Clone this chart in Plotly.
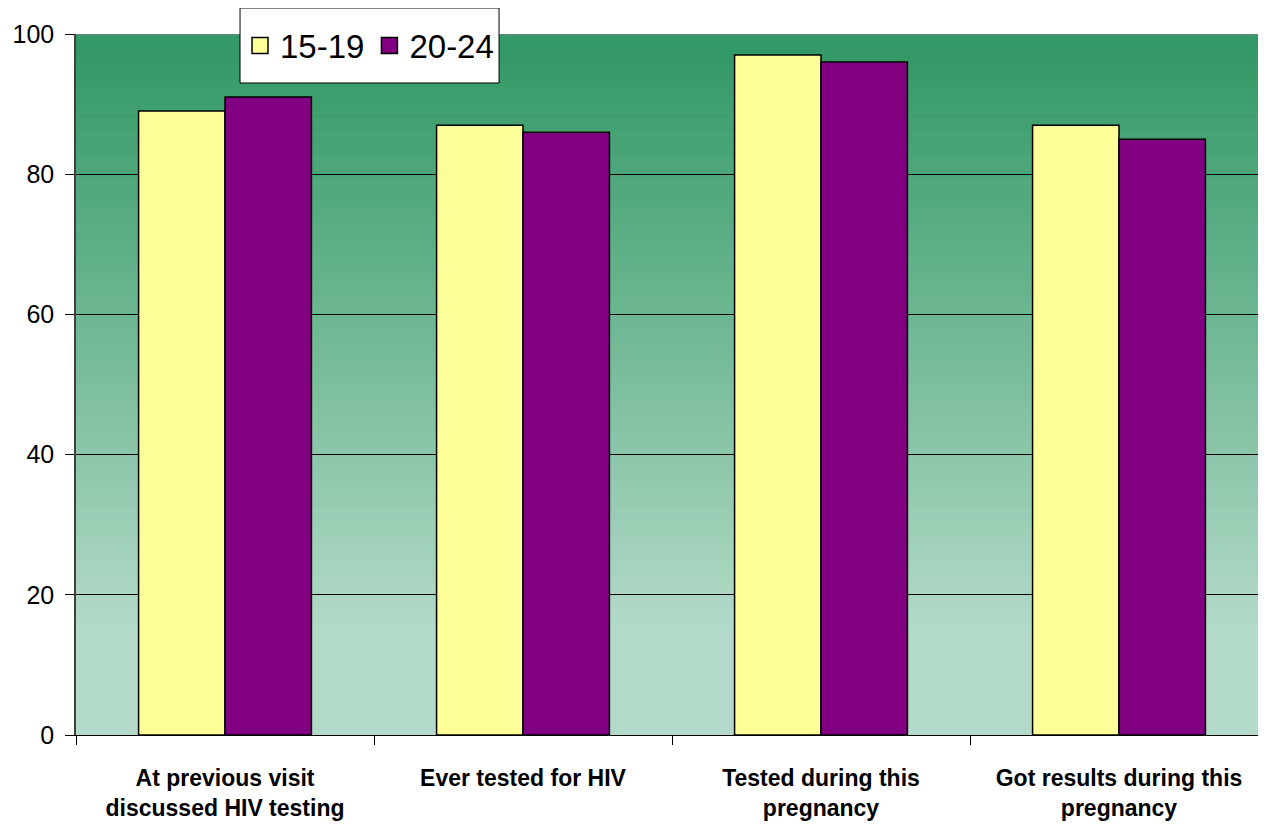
import plotly.graph_objects as go

categories = ["At previous visit<br>discussed HIV testing", "Ever tested for HIV",
              "Tested during this<br>pregnancy", "Got results during this<br>pregnancy"]
series_names = ["15-19", "20-24"]
values_15_19 = [89, 87, 97, 87]
values_20_24 = [91, 86, 96, 85]
y_ticks = [0, 20, 40, 60, 80, 100]

colors = ["#FFFF99", "#800080"]
xpos = list(range(len(categories)))

fig = go.Figure()
for name, vals, col in zip(series_names, [values_15_19, values_20_24], colors):
    fig.add_trace(go.Bar(x=xpos, y=vals, name=name, marker=dict(color=col, line=dict(color="black", width=1.5)),
                         showlegend=False))
for name, col in zip(series_names, colors):
    fig.add_trace(go.Scatter(x=[None], y=[None], mode="markers", name=name,
                             marker=dict(symbol="square", size=16, color=col, line=dict(color="black", width=1.5))))

# gradient background
def lerp(c1, c2, t):
    return "rgb(%d,%d,%d)" % tuple(round(a + (b - a) * t) for a, b in zip(c1, c2))
top_c = (0x33, 0x99, 0x66)
bot_c = (0xB3, 0xDA, 0xC8)
g_top, g_bot = 97.0, 15.0
n = 100
shapes = []
shapes.append(dict(type="rect", xref="paper", yref="y", x0=0, x1=1, y0=0, y1=g_bot,
                   fillcolor=lerp(top_c, bot_c, 1), line_width=0, layer="below"))
shapes.append(dict(type="rect", xref="paper", yref="y", x0=0, x1=1, y0=g_top, y1=100,
                   fillcolor=lerp(top_c, bot_c, 0), line_width=0, layer="below"))
for i in range(n):
    y1 = g_top - (g_top - g_bot) * i / n
    y0 = g_top - (g_top - g_bot) * (i + 1) / n
    shapes.append(dict(type="rect", xref="paper", yref="y", x0=0, x1=1, y0=y0 - 0.05, y1=y1 + 0.05,
                       fillcolor=lerp(top_c, bot_c, (i + 0.5) / n), line_width=0, layer="below"))
# top border
shapes.append(dict(type="line", xref="paper", yref="y", x0=0, x1=1, y0=100, y1=100,
                   line=dict(color="#808080", width=1.5), layer="above"))
# legend frame
shapes.append(dict(type="rect", xref="paper", yref="paper", x0=0.1376, x1=0.3549, y0=0.9301, y1=1.0371,
                   fillcolor="white", line=dict(color="black", width=1), layer="above"))

fig.update_layout(
    width=1260, height=820,
    margin=dict(l=68, r=0, t=26, b=93),
    paper_bgcolor="white", plot_bgcolor="#b3dac8",
    barmode="group", bargap=0.42, bargroupgap=0,
    font=dict(family="Arial, Liberation Sans, sans-serif", color="black"),
    shapes=shapes,
    legend=dict(orientation="h", x=0.1376, y=0.9836, xanchor="left", yanchor="middle",
                bgcolor="rgba(0,0,0,0)", borderwidth=0,
                font=dict(size=33), itemwidth=30, tracegroupgap=0),
    xaxis=dict(range=[-0.5, 3.5], tickmode="array", tickvals=xpos, ticktext=categories,
               ticks="", tickfont=dict(size=23, weight="bold"),
               showline=True, linecolor="black", linewidth=1, showgrid=False, zeroline=False,
               ticklabelstandoff=22,
               minor=dict(tickmode="linear", tick0=-0.5, dtick=1, ticks="outside", ticklen=9,
                          tickcolor="black", showgrid=False)),
    yaxis=dict(range=[0, 100], tickvals=y_ticks, ticks="outside", ticklen=9, tickcolor="black",
               tickfont=dict(size=25), showline=True, linecolor="#404040", linewidth=1.5,
               showgrid=True, gridcolor="black", gridwidth=1, zeroline=False, ticklabelstandoff=6),
)

fig.write_html("out.html")
